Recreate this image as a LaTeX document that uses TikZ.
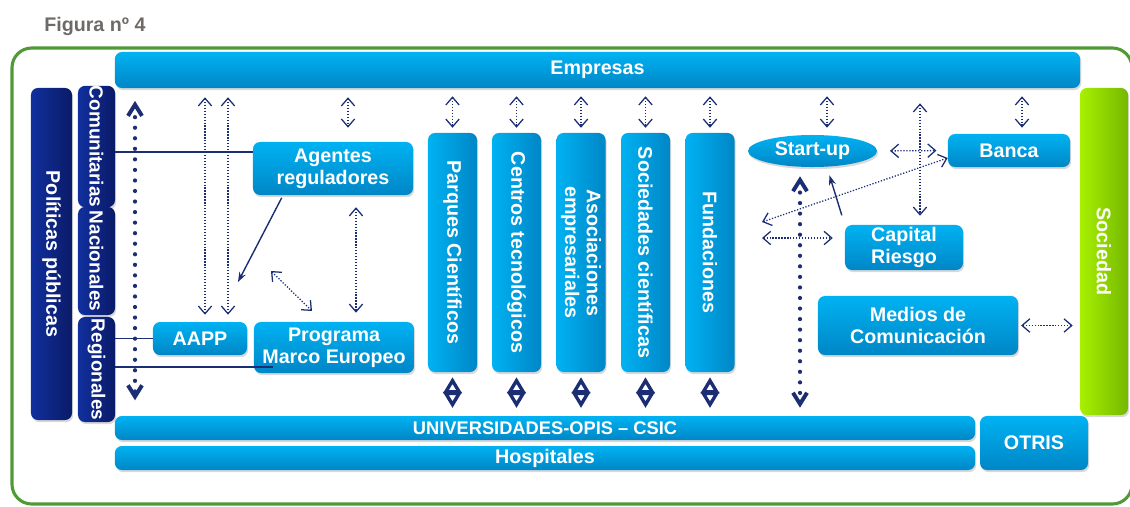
\documentclass[tikz,border=0pt]{standalone}
\usepackage{fontspec}
\setmainfont{Liberation Sans}
\usetikzlibrary{arrows.meta,shapes.geometric,shadows}

\definecolor{boxtop}{HTML}{00B2F2}
\definecolor{boxbot}{HTML}{0086C6}
\definecolor{navytop}{HTML}{11309E}
\definecolor{navybot}{HTML}{0A1A66}
\definecolor{limetop}{HTML}{A8F000}
\definecolor{limebot}{HTML}{74B800}
\definecolor{arrowcol}{HTML}{1B2D73}
\definecolor{framecol}{HTML}{4F9A35}
\definecolor{titlecol}{HTML}{6E6A68}

\newcommand\fcaja{\bfseries\fontsize{14}{15.5}\selectfont}

\tikzset{
  caja/.style={rounded corners=5pt, top color=boxtop, bottom color=boxbot, text=white,
    font=\fcaja, align=center, inner sep=0pt,
    drop shadow={shadow xshift=0.8pt, shadow yshift=-1.5pt, opacity=0.3}},
  cajav/.style={caja, rotate=-90, left color=boxtop, right color=boxbot},
  oscura/.style={caja, rotate=-90, left color=navytop, right color=navybot},
  verde/.style={caja, rotate=-90, left color=limetop, right color=limebot},
  enlace/.style={draw=arrowcol, line width=1pt},
  punteada/.style={draw=arrowcol, line width=0.9pt, dash pattern=on 0.9pt off 1.2pt,
    {Straight Barb[length=5.5pt,width=9.5pt,line width=0.9pt]}-{Straight Barb[length=5.5pt,width=9.5pt,line width=0.9pt]}},
  gruesa/.style={draw=arrowcol, line width=3pt, dash pattern=on 0pt off 7.5pt, line cap=round,
    {Straight Barb[length=8pt,width=10pt,line width=2.8pt]}-{Straight Barb[length=8pt,width=10pt,line width=2.8pt]}},
  rombo/.style={draw=arrowcol, line width=0.8pt, dash pattern=on 0.8pt off 1.2pt,
    {Stealth[open,length=11.5pt,width=13pt,inset=0pt,line width=2.4pt]}-{Stealth[open,length=11.5pt,width=13pt,inset=0pt,line width=2.4pt]}},
}

\begin{document}
\begin{tikzpicture}[x=0.025cm, y=-0.025cm]

    \useasboundingbox (0,0) rectangle (1130,506);

    \draw[framecol, line width=2.2pt, rounded corners=14pt] (12,48) rectangle (1132,504);
    \node[anchor=west, text=titlecol, font=\fcaja, inner sep=0pt] (titulo) at (44,26) {Figura nº 4};

    \node[caja, minimum width=24.125cm, minimum height=0.9cm] (empresas) at (597.5,70) {Empresas};
    \node[caja, minimum width=21.5cm, minimum height=0.6cm, font=\bfseries\fontsize{13}{15}\selectfont] (universidades) at (545,428) {UNIVERSIDADES-OPIS – CSIC};
    \node[caja, minimum width=21.5cm, minimum height=0.6cm] (hospitales) at (545,458) {Hospitales};
    \node[caja, minimum width=2.7cm, minimum height=1.35cm] (otris) at (1034,443) {OTRIS};

    \node[oscura, minimum width=8.3cm, minimum height=1.025cm] (politicas) at (51.5,254) {Políticas públicas};
    \node[oscura, minimum width=2.925cm, minimum height=0.925cm, font=\bfseries\fontsize{13.5}{15}\selectfont] (comunitarias) at (96.5,146.5) {Comunitarias};
    \node[oscura, minimum width=2.7cm, minimum height=0.925cm, font=\bfseries\fontsize{13.5}{15}\selectfont] (nacionales) at (96.5,261) {Nacionales};
    \node[oscura, minimum width=2.625cm, minimum height=0.925cm, font=\bfseries\fontsize{13.5}{15}\selectfont] (regionales) at (96.5,369.5) {Regionales};

    \node[verde, minimum width=8.175cm, minimum height=1.2cm] (sociedad) at (1104,251.5) {Sociedad};

    \node[caja, minimum width=4cm, minimum height=1.325cm] (agentes) at (333,168.5) {Agentes\\reguladores};
    \node[caja, minimum width=2.35cm, minimum height=0.825cm] (aapp) at (200,338.5) {AAPP};
    \node[caja, minimum width=4cm, minimum height=1.275cm] (programa) at (334,347.5) {Programa\\Marco Europeo};

    \foreach \nombre/\x/\texto in {parques/452.5/Parques Científicos, centros/516.5/Centros tecnológicos,
        asociaciones/581/{Asociaciones\\empresariales}, sociedades/645.5/Sociedades científicas, fundaciones/710/Fundaciones}
    \node[cajav, minimum width=5.975cm, minimum height=1.225cm] (\nombre) at (\x,252.5) {\texto};

    \node[caja, ellipse, minimum width=3.225cm, minimum height=0.8cm] (startup) at (812.5,151) {Start-up};
    \node[caja, minimum width=3.05cm, minimum height=0.825cm] (banca) at (1009,150.5) {Banca};
    \node[caja, minimum width=2.95cm, minimum height=1.125cm] (capital) at (904,247.5) {Capital\\Riesgo};
    \node[caja, minimum width=5cm, minimum height=1.475cm] (medios) at (918,325.5) {Medios de\\Comunicación};

    % lado izquierdo
    \coordinate (finpm) at (273,367);
    \coordinate (flecha1) at (238,282);
    \coordinate (a1) at (271,271);
    \coordinate (a2) at (312,311);
    \draw[enlace] (comunitarias.north |- 0,152) -- (agentes.west |- 0,152);
    \draw[enlace] (regionales.north |- aapp.west) -- (aapp.west);
    \draw[enlace] (regionales.north |- finpm) -- (finpm);
    \draw[gruesa, shorten <=9pt, shorten >=11pt] (empresas.south -| 135,0) -- (universidades.north -| 135,0);
    \foreach \x in {205,228}
    \draw[punteada, shorten <=6.4pt, shorten >=5pt] (empresas.south -| \x,0) -- (aapp.north -| \x,0);
    \draw[punteada, shorten <=6.4pt, shorten >=10pt] (empresas.south -| 348,0) -- (agentes.north -| 348,0);
    \draw[enlace, -{Stealth[length=7pt,width=5pt]}, shorten <=2pt] (agentes.south -| 283,0) -- (flecha1);
    \draw[punteada] (a1) -- (a2);
    \draw[punteada, shorten <=8.5pt, shorten >=6.4pt] (agentes.south -| 356,0) -- (programa.north -| 356,0);

    \foreach \nombre in {parques,centros,asociaciones,sociedades,fundaciones}{
    \draw[punteada, shorten <=5.7pt, shorten >=3.5pt] (empresas.south -| \nombre.west) -- (\nombre.west);
    \draw[rombo, shorten <=3.5pt, shorten >=5.5pt] (\nombre.east) -- (universidades.north -| \nombre.east);
    }

    % lado derecho
    \coordinate (d1) at (762,222);
    \coordinate (h1) at (762,238);
    \draw[punteada, shorten <=5.7pt, shorten >=5pt] (empresas.south -| 827,0) -- (startup.north -| 827,0);
    \draw[punteada, shorten <=5.7pt, shorten >=4.3pt] (empresas.south -| 1022,0) -- (banca.north -| 1022,0);
    \draw[punteada, shorten <=9pt, shorten >=8pt] (startup.east) -- (banca.west);
    \draw[punteada, shorten <=10.7pt, shorten >=6.4pt] (empresas.south -| 920,0) -- (capital.north -| 920,0);
    \draw[punteada] (d1) -- ([yshift=-5.3pt]banca.west);
    \draw[punteada, shorten >=8.5pt] (h1) -- (capital.west |- h1);
    \draw[enlace, -{Stealth[length=7pt,width=5pt]}, shorten <=7pt, shorten >=6pt] (capital.north west) -- (startup.south -| 827,0);
    \draw[gruesa, shorten <=6.4pt, shorten >=5.7pt] (startup.south -| 800,0) -- (universidades.north -| 800,0);
    \draw[punteada, shorten <=2pt, shorten >=5pt] (medios.east) -- (sociedad.south |- medios.east);

\end{tikzpicture}
\end{document}
